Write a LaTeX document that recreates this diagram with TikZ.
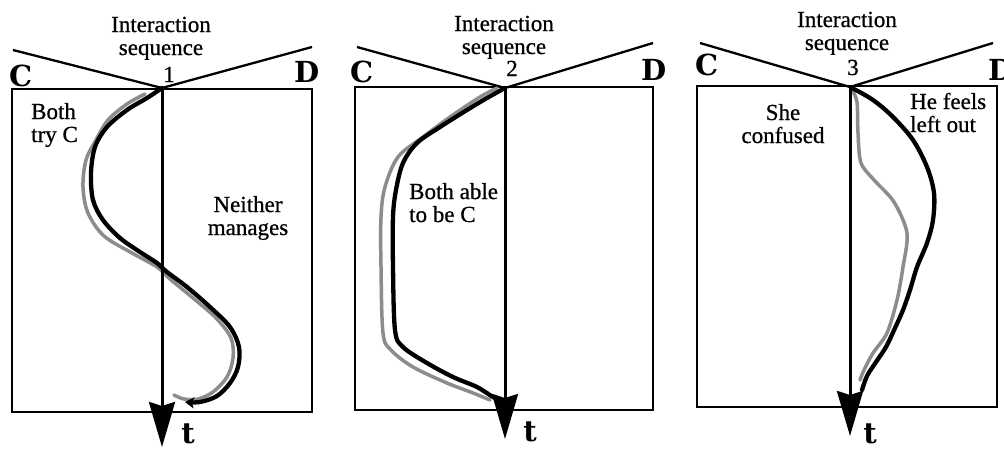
\documentclass[tikz,border=0pt]{standalone}
\usepackage{fontspec}
\setmainfont{Liberation Serif}[FakeBold=0.7]
\newfontfamily\heavyfont{DejaVu Serif}
\usetikzlibrary{arrows.meta}
\begin{document}
\begin{tikzpicture}[x=1pt,y=-1pt,
  lbl/.style={font=\fontsize{23}{23}\selectfont, inner sep=0pt, align=center},
  lbll/.style={font=\fontsize{23}{23}\selectfont, inner sep=0pt, align=left},
  cd/.style={font=\heavyfont\fontsize{29}{29}\selectfont\bfseries, inner sep=0pt},
  boxline/.style={draw=black, line width=2pt},
  vline/.style={draw=black, line width=2.3pt},
  tarrow/.style={draw=black, line width=3pt, -{Stealth[length=45pt,width=26pt,inset=4pt]}},
  curveblack/.style={draw=black, line width=4.3pt, line cap=round, line join=round},
  curvegray/.style={draw=black!45, line width=3.5pt, line cap=round, line join=round}
]
\useasboundingbox (0,0) rectangle (1004,450);
\clip (0,0) rectangle (1004,450);
\fill[white] (0,0) rectangle (1004,450);

% ---------- Panel 1 ----------
\coordinate (a1) at (162,88);
\coordinate (e1) at (162,447);
\coordinate (l1) at (13,50);
\coordinate (r1) at (312,47);
\draw[boxline] (12,89) rectangle (312,412);
\draw[vline] (l1) -- (a1) -- (r1);
\draw[curvegray] plot[smooth, tension=0.55] coordinates {
  (145,94) (127,104) (108,120) (96,140) (86,160) (83,187) (88,213) (104,236)
  (132,253) (157,267) (170,279) (193,298) (216,318) (231,338) (233,358)
  (227,377) (213,392) (198,399) (184,399) (174,395)};
\draw[curveblack, -{Stealth[length=9pt,width=11pt,inset=2pt]}] plot[smooth, tension=0.55] coordinates {
  (162,88) (147,98) (127,110) (107,127) (95,147) (91,173) (93,200) (103,220)
  (120,238) (140,252) (157,263) (167,272) (187,287) (210,307) (230,327)
  (239,347) (238,367) (230,383) (217,396) (200,402) (185,402)};
\draw[tarrow] (a1) -- (e1);
\node[lbl, anchor=base] (int1) at (161,55) {Interaction\\sequence};
\node[lbl, anchor=base] (n1) at (169,82) {1};
\node[cd, anchor=base west] (c1) at (9,86) {C};
\node[cd, anchor=base west] (d1) at (294,82) {D};
\node[cd, anchor=base] (t1) at (188,443) {t};
\node[lbll, anchor=base west] (both1) at (31,142) {Both\\try C};
\node[lbl, anchor=base] (nei1) at (248,235) {Neither\\manages};

% ---------- Panel 2 ----------
\coordinate (a2) at (505,88);
\coordinate (e2) at (505,439);
\coordinate (l2) at (357,47);
\coordinate (r2) at (653,43);
\draw[boxline] (355,87) rectangle (653,410);
\draw[vline] (l2) -- (a2) -- (r2);
\draw[curvegray] plot[smooth, tension=0.55] coordinates {
  (497,88) (480,97) (450,117) (423,137) (398,157) (385,187) (381,217) (381,267)
  (383,333) (391,350) (413,367) (447,383) (473,393) (490,400)};
\draw[curveblack] plot[smooth, tension=0.55] coordinates {
  (505,88) (487,98) (467,110) (440,127) (417,143) (403,163) (396,190) (393,217)
  (393,267) (395,330) (403,347) (427,363) (453,377) (477,387) (493,397) (503,401)};
\draw[tarrow] (a2) -- (e2);
\node[lbl, anchor=base] (int2) at (504,54) {Interaction\\sequence};
\node[lbl, anchor=base] (n2) at (512,76) {2};
\node[cd, anchor=base west] (c2) at (350,82) {C};
\node[cd, anchor=base west] (d2) at (641,80) {D};
\node[cd, anchor=base] (t2) at (530,441) {t};
\node[lbll, anchor=base west] (both2) at (409,222) {Both able\\to be C};

% ---------- Panel 3 ----------
\coordinate (a3) at (850,87);
\coordinate (e3) at (850,436);
\coordinate (l3) at (700,43);
\coordinate (r3) at (993,43);
\draw[boxline] (697,86) rectangle (997,407);
\draw[vline] (l3) -- (a3) -- (r3);
\draw[curvegray] plot[smooth, tension=0.5] coordinates {
  (852,90) (857,102) (858,133) (861,163) (875,181) (894,202) (907,233)
  (903,267) (897,300) (887,333) (873,353) (864,370) (860,380)};
\draw[curveblack] plot[smooth, tension=0.55] coordinates {
  (852,88) (873,100) (893,117) (913,140) (927,167) (934,193) (933,220)
  (927,243) (917,267) (910,290) (903,310) (895,328) (886,347) (876,362) (867,376) (862,390)};
\draw[tarrow] (a3) -- (e3);
\node[lbl, anchor=base] (int3) at (847,50) {Interaction\\sequence};
\node[lbl, anchor=base] (n3) at (853,75) {3};
\node[cd, anchor=base west] (c3) at (695,75) {C};
\node[cd, anchor=base west] (d3) at (988,80) {D};
\node[cd, anchor=base] (t3) at (870,443) {t};
\node[lbl, anchor=base] (she3) at (783,143) {She\\confused};
\node[lbll, anchor=base west] (he3) at (910,132) {He feels\\left out};
\end{tikzpicture}
\end{document}
